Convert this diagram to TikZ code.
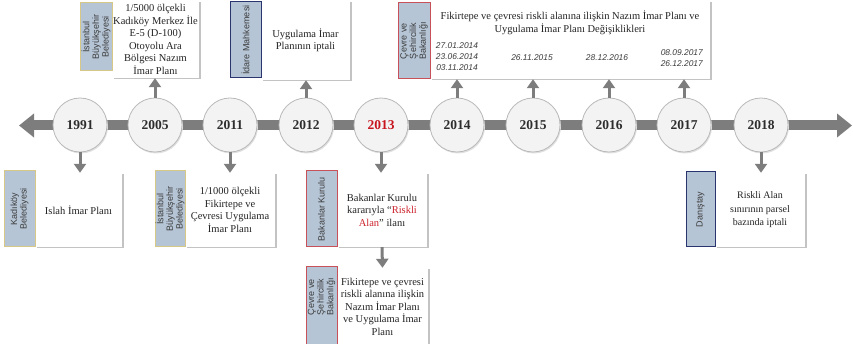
\documentclass[tikz,border=0pt]{standalone}
\usepackage{fontspec}
\setmainfont{Liberation Serif}
\newfontfamily\stripfont{Liberation Sans}
\newfontfamily\datefont{Liberation Sans}
\usetikzlibrary{arrows.meta,shadows}
\definecolor{stripfill}{RGB}{182,197,213}
\definecolor{tanline}{RGB}{216,200,135}
\definecolor{navyline}{RGB}{42,52,110}
\definecolor{redline}{RGB}{200,80,90}
\definecolor{circfill}{RGB}{243,243,243}
\definecolor{circline}{RGB}{185,185,185}
\definecolor{arrowgray}{RGB}{125,125,125}
\definecolor{shadowc}{RGB}{195,195,195}
\definecolor{yeartext}{RGB}{45,45,45}
\definecolor{yearred}{RGB}{200,20,30}
\definecolor{textc}{RGB}{35,35,35}
\definecolor{striptext}{RGB}{60,60,60}
\definecolor{datec}{RGB}{60,60,60}
\definecolor{riskred}{RGB}{205,35,45}
\tikzset{
  yearc/.style={circle, minimum size=54pt, inner sep=0pt, fill=circfill, draw=circline,
    line width=0.8pt, font=\fontsize{13.5}{15}\selectfont\bfseries, text=yeartext,
    general shadow={fill=black!12, shadow xshift=1pt, shadow yshift=-1.5pt}},
  txtbox/.style={rectangle, fill=white, inner sep=0pt, align=center,
    font=\fontsize{10.5}{12.5}\selectfont, text=textc,
    general shadow={fill=shadowc, shadow xshift=1.5pt, shadow yshift=-1.5pt}},
  stripbox/.style={rectangle, fill=stripfill, line width=1pt, inner sep=0pt},
  striplabel/.style={rotate=90, align=center, font=\stripfont\fontsize{9}{9.6}\selectfont,
    text=striptext, inner sep=0pt},
  conn/.style={draw=arrowgray, line width=3pt, -{Triangle[width=12pt,length=9pt]}},
  datelbl/.style={font=\datefont\itshape\fontsize{8.4}{11}\selectfont, text=datec,
    inner sep=0pt, align=center}
}
\begin{document}
\begin{tikzpicture}[x=1pt,y=-1pt]
\useasboundingbox (0,0) rectangle (853,344);

% timeline bar
\coordinate (tl) at (19,125.5);
\coordinate (tr) at (852,125.5);
\draw[draw=arrowgray, line width=10pt,
  {Triangle[width=23pt,length=15pt]}-{Triangle[width=23pt,length=15pt]}] (tl) -- (tr);

% year circles
\node[yearc] (c1991) at (80,125) {1991};
\node[yearc] (c2005) at (155,125) {2005};
\node[yearc] (c2011) at (230,125) {2011};
\node[yearc] (c2012) at (306,125) {2012};
\node[yearc, text=yearred] (c2013) at (381,125) {2013};
\node[yearc] (c2014) at (457,125) {2014};
\node[yearc] (c2015) at (533,125) {2015};
\node[yearc] (c2016) at (609,125) {2016};
\node[yearc] (c2017) at (684,125) {2017};
\node[yearc] (c2018) at (761,125) {2018};

% ---- top boxes ----
\node[txtbox, minimum width=87pt, minimum height=77pt] (b2005) at (155.5,39.5)
  {1/5000 ölçekli\\Kadıköy Merkez İle\\E-5 (D-100)\\Otoyolu Ara\\Bölgesi Nazım\\İmar Planı};
\node[stripbox, draw=tanline, minimum width=32pt, minimum height=68pt] (s2005) at (96,37) {};
\node[striplabel] at (s2005.center) {İstanbul\\Büyükşehir\\Belediyesi};

\node[txtbox, minimum width=89pt, minimum height=79pt] (b2012) at (305.5,40.5)
  {Uygulama İmar\\Planının iptali};
\node[stripbox, draw=navyline, minimum width=31pt, minimum height=76pt] (s2012) at (245.5,40) {};
\node[striplabel] at (s2012.center) {İdare Mahkemesi};

\node[txtbox, minimum width=280pt, minimum height=78pt] (b2014) at (570,40) {};
\node[stripbox, draw=redline, minimum width=32pt, minimum height=76pt] (s2014) at (414,41) {};
\node[striplabel] at (s2014.center) {Çevre ve\\Şehircilik\\Bakanlığı};
\node[align=center, inner sep=0pt, font=\fontsize{10.5}{12.5}\selectfont, text=textc] (t2014) at (570,23)
  {Fikirtepe ve çevresi riskli alanına ilişkin Nazım İmar Planı ve\\Uygulama İmar Planı Değişiklikleri};
\node[datelbl] (d2014) at (457,56.5) {27.01.2014\\23.06.2014\\03.11.2014};
\node[datelbl] (d2015) at (532,57.5) {26.11.2015};
\node[datelbl] (d2016) at (607,57.5) {28.12.2016};
\node[datelbl, align=right, anchor=east] (d2017) at (703,58.5) {08.09.2017\\26.12.2017};

% ---- bottom boxes ----
\node[txtbox, minimum width=87pt, minimum height=74pt] (b1991) at (78.5,210) {Islah İmar Planı};
\node[stripbox, draw=tanline, minimum width=31pt, minimum height=76pt] (s1991) at (19.5,209) {};
\node[striplabel] at (s1991.center) {Kadıköy\\Belediyesi};

\node[txtbox, minimum width=90pt, minimum height=74pt] (b2011) at (230,210)
  {1/1000 ölçekli\\Fikirtepe ve\\Çevresi Uygulama\\İmar Planı};
\node[stripbox, draw=tanline, minimum width=30pt, minimum height=76pt] (s2011) at (170,209) {};
\node[striplabel] at (s2011.center) {İstanbul\\Büyükşehir\\Belediyesi};

\node[txtbox, minimum width=90pt, minimum height=74pt] (b2013a) at (382,210)
  {Bakanlar Kurulu\\kararıyla “\textcolor{riskred}{Riskli}\\\textcolor{riskred}{Alan}” ilanı};
\node[stripbox, draw=redline, minimum width=31pt, minimum height=76pt] (s2013a) at (321.5,209) {};
\node[striplabel] at (s2013a.center) {Bakanlar Kurulu};

\node[txtbox, minimum width=91pt, minimum height=77pt] (b2013b) at (382.5,306.5)
  {Fikirtepe ve çevresi\\riskli alanına ilişkin\\Nazım İmar Planı\\ve Uygulama İmar\\Planı};
\node[stripbox, draw=redline, minimum width=31pt, minimum height=80pt] (s2013b) at (321.5,307) {};
\node[striplabel] at ([yshift=10pt]s2013b.center) {Çevre ve\\Şehircilik\\Bakanlığı};

\node[txtbox, minimum width=90pt, minimum height=74pt, font=\fontsize{10}{13.5}\selectfont] (b2018) at (760,210)
  {Riskli Alan\\sınırının parsel\\bazında iptali};
\node[stripbox, draw=navyline, minimum width=29pt, minimum height=75pt] (s2018) at (700.5,209.5) {};
\node[striplabel] at (s2018.center) {Danıştay};

% ---- connectors ----
\draw[conn] (c2005.north) -- (c2005.north |- b2005.south);
\draw[conn] (c2012.north) -- (c2012.north |- b2012.south);
\draw[conn] (c2014.north) -- (c2014.north |- b2014.south);
\draw[conn] (c2015.north) -- (c2015.north |- b2014.south);
\draw[conn] (c2016.north) -- (c2016.north |- b2014.south);
\draw[conn] (c2017.north) -- (c2017.north |- b2014.south);
\draw[conn] (c1991.south) -- (c1991.south |- b1991.north);
\draw[conn] (c2011.south) -- (c2011.south |- b2011.north);
\draw[conn] (c2013.south) -- (c2013.south |- b2013a.north);
\draw[conn] (b2013a.south) -- (b2013b.north);
\draw[conn] (c2018.south) -- (c2018.south |- b2018.north);
\end{tikzpicture}
\end{document}
